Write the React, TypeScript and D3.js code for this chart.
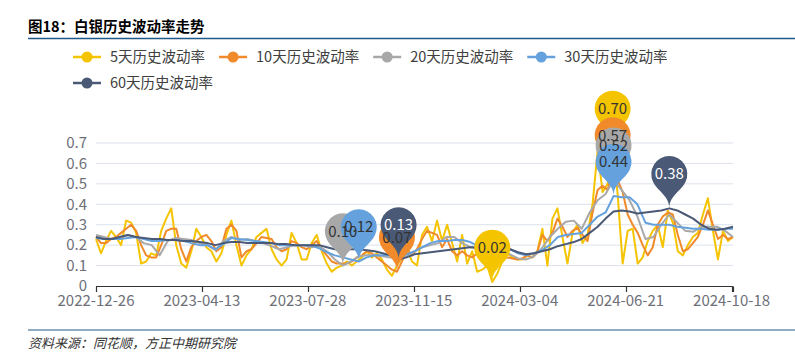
import React, { useEffect, useRef } from "react";
import * as d3 from "d3";

const seriesNames = ["5天历史波动率", "10天历史波动率", "20天历史波动率", "30天历史波动率", "60天历史波动率"];
const seriesColors = ["#F5C400", "#F08A2B", "#A8A8A8", "#65A2DD", "#4A5975"];
const labelColors = ["#333333", "#333333", "#333333", "#333333", "#FFFFFF"];

const vol5 = [
  0.23, 0.16, 0.22, 0.27, 0.24, 0.2, 0.32, 0.31, 0.26, 0.11, 0.12, 0.16, 0.15, 0.27, 0.33, 0.38,
  0.2, 0.11, 0.09, 0.17, 0.28, 0.24, 0.19, 0.17, 0.12, 0.16, 0.25, 0.32, 0.2, 0.1, 0.15, 0.18,
  0.24, 0.26, 0.28, 0.18, 0.13, 0.1, 0.13, 0.26, 0.21, 0.13, 0.13, 0.21, 0.25, 0.17, 0.11, 0.07,
  0.09, 0.1, 0.12, 0.1, 0.12, 0.14, 0.17, 0.14, 0.16, 0.13, 0.08, 0.05, 0.1, 0.14, 0.18, 0.12,
  0.1, 0.25, 0.29, 0.22, 0.32, 0.22, 0.3, 0.21, 0.12, 0.25, 0.11, 0.17, 0.07, 0.08, 0.1, 0.02,
  0.06, 0.12, 0.16, 0.14, 0.13, 0.13, 0.15, 0.14, 0.17, 0.28, 0.1, 0.33, 0.38, 0.24, 0.11, 0.26,
  0.3, 0.21, 0.25, 0.4, 0.66, 0.46, 0.5, 0.7, 0.45, 0.11, 0.27, 0.28, 0.11, 0.14, 0.22, 0.27,
  0.3, 0.19, 0.37, 0.31, 0.17, 0.15, 0.2, 0.24, 0.26, 0.35, 0.43, 0.27, 0.13, 0.27, 0.22, 0.24,
];
const vol10 = [
  0.24, 0.21, 0.21, 0.23, 0.24, 0.26, 0.28, 0.3, 0.27, 0.2, 0.15, 0.14, 0.14, 0.2, 0.27, 0.28,
  0.28, 0.18, 0.12, 0.19, 0.22, 0.24, 0.25, 0.22, 0.17, 0.19, 0.28, 0.3, 0.27, 0.14, 0.17, 0.18,
  0.21, 0.24, 0.235, 0.23, 0.19, 0.17, 0.18, 0.22, 0.21, 0.19, 0.18, 0.2, 0.22, 0.18, 0.15, 0.12,
  0.11, 0.11, 0.11, 0.12, 0.14, 0.15, 0.17, 0.16, 0.14, 0.12, 0.1, 0.08, 0.07, 0.12, 0.18, 0.15,
  0.18, 0.23, 0.27, 0.26, 0.25, 0.19, 0.23, 0.17, 0.15, 0.17, 0.15, 0.14, 0.16, 0.14, 0.12, 0.1,
  0.11, 0.13, 0.14, 0.135, 0.13, 0.135, 0.15, 0.14, 0.17, 0.25, 0.22, 0.26, 0.33, 0.29, 0.24, 0.27,
  0.285, 0.25, 0.22, 0.36, 0.47, 0.49, 0.47, 0.57, 0.52, 0.46, 0.35, 0.3, 0.26, 0.2, 0.15, 0.19,
  0.3, 0.34, 0.36, 0.35, 0.25, 0.17, 0.18, 0.21, 0.24, 0.3, 0.37, 0.3, 0.23, 0.25, 0.23, 0.24,
];
const vol20 = [
  0.25, 0.24, 0.23, 0.24, 0.25, 0.24, 0.21, 0.2, 0.15, 0.22, 0.235, 0.23, 0.225, 0.21, 0.2, 0.175,
  0.22, 0.24, 0.225, 0.23, 0.22, 0.21, 0.195, 0.18, 0.19, 0.2, 0.2, 0.19, 0.195, 0.17, 0.13, 0.1,
  0.12, 0.145, 0.15, 0.15, 0.145, 0.14, 0.14, 0.145, 0.17, 0.19, 0.2, 0.21, 0.24, 0.24, 0.21, 0.19,
  0.18, 0.18, 0.175, 0.17, 0.155, 0.135, 0.13, 0.145, 0.185, 0.24, 0.28, 0.315, 0.32, 0.28, 0.36, 0.42,
  0.45, 0.52, 0.47, 0.42, 0.34, 0.23, 0.24, 0.3, 0.35, 0.31, 0.27, 0.265, 0.29, 0.29, 0.29, 0.27,
  0.24,
];
const vol30 = [
  0.235, 0.23, 0.23, 0.23, 0.235, 0.24, 0.23, 0.22, 0.22, 0.225, 0.225, 0.22, 0.21, 0.2, 0.2, 0.18,
  0.205, 0.235, 0.23, 0.225, 0.22, 0.215, 0.21, 0.2, 0.2, 0.2, 0.2, 0.2, 0.185, 0.165, 0.15, 0.14,
  0.13, 0.12, 0.14, 0.15, 0.15, 0.15, 0.145, 0.155, 0.17, 0.19, 0.21, 0.22, 0.22, 0.225, 0.225, 0.215,
  0.195, 0.19, 0.19, 0.19, 0.18, 0.16, 0.15, 0.16, 0.175, 0.2, 0.24, 0.25, 0.255, 0.26, 0.3, 0.34,
  0.36, 0.44, 0.435, 0.435, 0.4, 0.31, 0.3, 0.3, 0.3, 0.29, 0.285, 0.28, 0.28, 0.275, 0.275, 0.28,
  0.28,
];
const vol60 = [
  0.24, 0.23, 0.23, 0.24, 0.25, 0.24, 0.235, 0.23, 0.23, 0.225, 0.225, 0.22, 0.22, 0.215, 0.21, 0.2,
  0.21, 0.215, 0.215, 0.21, 0.21, 0.21, 0.21, 0.205, 0.205, 0.2, 0.2, 0.2, 0.2, 0.19, 0.18, 0.18,
  0.18, 0.18, 0.175, 0.17, 0.16, 0.15, 0.13, 0.14, 0.155, 0.16, 0.165, 0.17, 0.175, 0.18, 0.185, 0.19,
  0.19, 0.19, 0.19, 0.185, 0.18, 0.165, 0.155, 0.16, 0.17, 0.18, 0.195, 0.205, 0.215, 0.23, 0.26, 0.29,
  0.33, 0.365, 0.37, 0.365, 0.355, 0.36, 0.365, 0.37, 0.38, 0.37, 0.35, 0.33, 0.3, 0.28, 0.275, 0.28,
  0.29,
];
const allSeries = [vol5, vol10, vol20, vol30, vol60];

const dayCount = 458;
const xTickDays = [0, 76, 152, 228, 304, 380, 456];
const xTickLabels = ["2022-12-26", "2023-04-13", "2023-07-28", "2023-11-15", "2024-03-04", "2024-06-21", "2024-10-18"];
const yTickValues = [0, 0.1, 0.2, 0.3, 0.4, 0.5, 0.6, 0.7];

const FONT = "'Microsoft YaHei', 'Noto Sans CJK SC', 'Noto Sans', sans-serif";

function pinPath(x: number, y: number, size: number) {
  const w = (size / 5) * 3;
  const h = Math.max(w, size);
  const r = w / 2;
  const dy = (r * r) / (h - r);
  const cy = y - h + r + dy;
  const angle = Math.asin(dy / r);
  const dx = Math.cos(angle) * r;
  const tanX = Math.sin(angle);
  const tanY = Math.cos(angle);
  const cpLen = r * 0.6;
  const cpLen2 = r * 0.7;
  const p = d3.path();
  p.moveTo(x - dx, cy + dy);
  p.arc(x, cy, r, Math.PI - angle, Math.PI * 2 + angle);
  p.bezierCurveTo(x + dx - tanX * cpLen, cy + dy + tanY * cpLen, x, y - cpLen2, x, y);
  p.bezierCurveTo(x, y - cpLen2, x - dx + tanX * cpLen, cy + dy + tanY * cpLen, x - dx, cy + dy);
  p.closePath();
  return { d: p.toString(), cy };
}

export default function App() {
  const ref = useRef<SVGSVGElement | null>(null);

  useEffect(() => {
    document.body.style.margin = "0";
    const svg = d3.select(ref.current!);
    svg.selectAll("*").remove();
    const W = 795;
    const H = 357;
    svg.append("rect").attr("width", W).attr("height", H).attr("fill", "#fff");

    const left = 96;
    const right = 733;
    const x = d3.scaleLinear().domain([0, dayCount - 1]).range([left, right]);
    const y = d3.scaleLinear().domain([0, 0.7]).range([286, 143]);

    // title
    svg.append("text").attr("x", 28).attr("y", 32).attr("font-family", FONT).attr("font-size", 14.5)
      .attr("font-weight", "bold").attr("fill", "#000").text("图18：白银历史波动率走势");
    svg.append("line").attr("x1", 28).attr("x2", W).attr("y1", 38.5).attr("y2", 38.5)
      .attr("stroke", "#1F5A86").attr("stroke-width", 1.5);

    // legend
    const legend = svg.append("g");
    let lx = 73;
    let ly = 57;
    seriesNames.forEach((name, i) => {
      if (i === 4) { lx = 73; ly = 83; }
      const g = legend.append("g");
      g.append("line").attr("x1", lx).attr("x2", lx + 28).attr("y1", ly).attr("y2", ly)
        .attr("stroke", seriesColors[i]).attr("stroke-width", 2.5);
      g.append("circle").attr("cx", lx + 14).attr("cy", ly).attr("r", 5.5).attr("fill", seriesColors[i]);
      const t = g.append("text").attr("x", lx + 37).attr("y", ly).attr("dy", "0.35em")
        .attr("font-family", FONT).attr("font-size", 14.5).attr("fill", "#404040").text(name);
      const tw = (t.node() as SVGTextElement).getComputedTextLength();
      lx = lx + 37 + tw + 14;
    });

    // grid
    const grid = svg.append("g");
    yTickValues.forEach((v) => {
      if (v > 0) {
        grid.append("line").attr("x1", left).attr("x2", right).attr("y1", y(v)).attr("y2", y(v))
          .attr("stroke", "#DCE1EC").attr("stroke-width", 1);
      }
      grid.append("text").attr("x", 87).attr("y", y(v)).attr("dy", "0.35em").attr("text-anchor", "end")
        .attr("font-family", FONT).attr("font-size", 15).attr("fill", "#6E7079").text(d3.format("")(v));
    });

    // x axis
    const ax = svg.append("g");
    ax.append("line").attr("x1", left).attr("x2", right).attr("y1", 286.5).attr("y2", 286.5)
      .attr("stroke", "#333").attr("stroke-width", 1.2);
    [...xTickDays, dayCount - 1].forEach((d) => {
      ax.append("line").attr("x1", Math.round(x(d)) + 0.5).attr("x2", Math.round(x(d)) + 0.5)
        .attr("y1", 286.5).attr("y2", 292).attr("stroke", "#333").attr("stroke-width", 1.2);
    });
    xTickDays.forEach((d, i) => {
      ax.append("text").attr("x", x(d)).attr("y", 301).attr("dy", "0.35em").attr("text-anchor", "middle")
        .attr("font-family", FONT).attr("font-size", 15).attr("fill", "#6E7079").text(xTickLabels[i]);
    });

    // lines
    const dayOf = (i: number, n: number) => (i * (dayCount - 1)) / (n - 1);
    allSeries.forEach((arr, s) => {
      const line = d3.line<number>().x((_, i) => x(dayOf(i, arr.length))).y((v) => y(v));
      svg.append("path").attr("d", line(arr)!).attr("fill", "none").attr("stroke", seriesColors[s])
        .attr("stroke-width", 2).attr("stroke-linejoin", "round");
    });

    // mark points
    const pins: { x: number; y: number; v: number; s: number }[] = [];
    allSeries.forEach((arr, s) => {
      const mi = d3.maxIndex(arr);
      const ni = d3.minIndex(arr);
      pins.push({ x: x(dayOf(mi, arr.length)), y: y(arr[mi]), v: arr[mi], s });
      pins.push({ x: x(dayOf(ni, arr.length)), y: y(arr[ni]), v: arr[ni], s });
    });
    const pinG = svg.append("g");
    const labelG = svg.append("g");
    pins.forEach((p) => {
      const { d, cy } = pinPath(p.x, p.y, 60);
      pinG.append("path").attr("d", d).attr("fill", seriesColors[p.s]);
      labelG.append("text").attr("x", p.x).attr("y", cy).attr("dy", "0.35em").attr("text-anchor", "middle")
        .attr("font-family", FONT).attr("font-size", 15).attr("fill", labelColors[p.s]).text(p.v.toFixed(2));
    });

    // source
    svg.append("line").attr("x1", 28).attr("x2", W).attr("y1", 330).attr("y2", 330)
      .attr("stroke", "#1F5A86").attr("stroke-width", 1.2);
    svg.append("text").attr("x", 28).attr("y", 343).attr("dy", "0.35em").attr("font-family", FONT)
      .attr("font-size", 13).attr("font-style", "italic").attr("fill", "#333").text("资料来源：同花顺，方正中期研究院");
  }, []);

  return (
    <svg ref={ref} width={795} height={357} style={{ display: "block", position: "absolute", left: 0, top: 0 }} />
  );
}
